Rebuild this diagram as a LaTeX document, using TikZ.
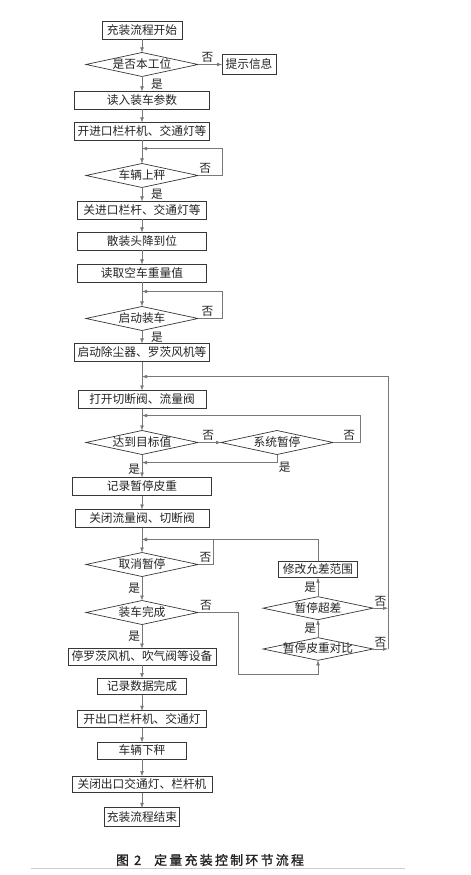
\documentclass[tikz,border=0pt]{standalone}
\usepackage{fontspec}
\setmainfont{Noto Sans CJK SC}
\newfontfamily\capfont[LetterSpace=18, FakeBold=1.5]{Noto Sans CJK SC}
\usepackage{tikz}
\usetikzlibrary{arrows.meta, positioning, calc, shapes.geometric}
\definecolor{boxEdge}{RGB}{55,55,55}
\definecolor{lineGray}{RGB}{120,120,120}
\definecolor{txtDark}{RGB}{35,35,35}
\definecolor{ruleGray}{RGB}{205,205,205}

\begin{document}
\begin{tikzpicture}[
    box/.style={rectangle, draw=boxEdge, semithick, minimum height=0.54cm, text height=0.29cm, text depth=0.06cm, inner sep=0pt, outer sep=0pt, align=center, text=txtDark},
    decision/.style={diamond, draw=boxEdge, semithick, aspect=4.6, minimum width=3.36cm, minimum height=0.72cm, text height=0.29cm, text depth=0.06cm, inner sep=0pt, outer sep=0pt, text=txtDark},
    arrow/.style={-{Latex[length=1.5mm, width=1.1mm]}, draw=lineGray, thin},
    lab/.style={inner sep=1.5pt, text=txtDark},
    every node/.style={font=\fontsize{10pt}{12pt}\selectfont}
]
\useasboundingbox (0,0) rectangle (14.1,-26.25);

% Main column
\node[box, minimum width=2.4cm] (start) at (4.26,-0.915) {充装流程开始};
\node[decision, below=0.39cm of start] (isStation) {\makebox[0pt]{是否本工位}};
\node[box, minimum width=1.62cm, minimum height=0.6cm, right=0.72cm of isStation] (hint) {提示信息};
\node[box, minimum width=4.05cm, below=0.45cm of isStation] (readPar) {读入装车参数};
\node[box, minimum width=4.05cm, below=0.39cm of readPar] (openIn) {开进口栏杆机、交通灯等};
\node[decision, below=0.69cm of openIn] (onScale) {\makebox[0pt]{车辆上秤}};
\node[box, minimum width=3.87cm, below=0.42cm of onScale] (closeIn) {关进口栏杆、交通灯等};
\node[box, minimum width=3.87cm, below=0.39cm of closeIn] (lowerHead) {散装头降到位};
\node[box, minimum width=3.87cm, below=0.42cm of lowerHead] (readTare) {读取空车重量值};
\node[decision, below=0.72cm of readTare] (startLoad) {\makebox[0pt]{启动装车}};
\node[box, minimum width=4.05cm, below=0.39cm of startLoad] (startFan) {启动除尘器、罗茨风机等};
\node[box, minimum width=3.84cm, below=0.87cm of startFan] (openValve) {打开切断阀、流量阀};
\node[decision, below=0.66cm of openValve] (reach) {\makebox[0pt]{达到目标值}};
\node[decision, right=0.69cm of reach] (sysPause) {\makebox[0pt]{系统暂停}};
\node[box, minimum width=4.17cm, below=0.69cm of reach] (recTare) {记录暂停皮重};
\node[box, minimum width=4.02cm, below=0.42cm of recTare] (closeValve) {关闭流量阀、切断阀};
\node[decision, below=0.75cm of closeValve] (cancel) {\makebox[0pt]{取消暂停}};
\node[decision, below=0.72cm of cancel] (loadDone) {\makebox[0pt]{装车完成}};
\node[box, minimum width=4.44cm, minimum height=0.5cm, below=0.72cm of loadDone] (stopFan) {停罗茨风机、吹气阀等设备};
\node[box, minimum width=2.67cm, minimum height=0.5cm, below=0.39cm of stopFan] (recData) {记录数据完成};
\node[box, minimum width=3.87cm, minimum height=0.5cm, below=0.48cm of recData] (openOut) {开出口栏杆机、交通灯};
\node[box, minimum width=2.67cm, minimum height=0.5cm, below=0.45cm of openOut] (leave) {车辆下秤};
\node[box, minimum width=4.2cm, minimum height=0.5cm, below=0.51cm of leave] (closeOut) {关闭出口交通灯、栏杆机};
\node[box, minimum width=2.25cm, minimum height=0.56cm, below=0.45cm of closeOut] (finish) {充装流程结束};

% Right branch: tare check
\node[decision, minimum width=3.3cm, minimum height=0.68cm] (cmpTare) at (9.54,-19.47) {\makebox[0pt]{暂停皮重对比}};
\node[decision, minimum width=3.3cm, minimum height=0.69cm, above=0.54cm of cmpTare] (overTol) {\makebox[0pt]{暂停超差}};
\node[box, minimum width=2.37cm, minimum height=0.5cm, above=0.57cm of overTol] (modify) {修改允差范围};

% Loop entry points on the main line
\coordinate (inScale) at ($(openIn.south)!0.35!(onScale.north)$);
\coordinate (inLoad) at ($(readTare.south)!0.375!(startLoad.north)$);
\coordinate (inValve) at ($(startFan.south)!0.52!(openValve.north)$);
\coordinate (inReach) at ($(openValve.south)!0.32!(reach.north)$);
\coordinate (inRec) at ($(reach.south)!0.35!(recTare.north)$);
\coordinate (inCancel) at ($(closeValve.south)!0.48!(cancel.north)$);
\coordinate (retR) at ($(cmpTare.east)+(0.45,0)$);

% Arrows
\draw[arrow] (start) -- (isStation);
\draw[arrow] (isStation) -- node[lab, pos=0.4, above] {否} (hint);
\draw[arrow] (isStation) -- node[lab, right=6pt] {是} (readPar);
\draw[arrow] (readPar) -- (openIn);
\draw[arrow] (openIn) -- (onScale);
\draw[arrow] (onScale.east) -- node[lab, pos=0.3, above] {否} ++(0.72,0) |- (inScale);
\draw[arrow] (onScale) -- node[lab, right=6pt] {是} (closeIn);
\draw[arrow] (closeIn) -- (lowerHead);
\draw[arrow] (lowerHead) -- (readTare);
\draw[arrow] (readTare) -- (startLoad);
\draw[arrow] (startLoad.east) -- node[lab, pos=0.4, above] {否} ++(0.72,0) |- (inLoad);
\draw[arrow] (startLoad) -- node[lab, right=6pt] {是} (startFan);
\draw[arrow] (startFan) -- (openValve);
\draw[arrow] (openValve) -- (reach);

% Target value / system pause
\draw[arrow] (reach) -- node[lab, pos=0.45, above] {否} (sysPause);
\draw[arrow] (sysPause.east) -- node[lab, pos=0.6, above] {否} ++(0.81,0) |- (inReach);
\draw[arrow] (sysPause.south) |- node[lab, pos=0.35, below right] {是} (inRec);
\draw[arrow] (reach) -- node[lab, pos=0.65, left] {是} (recTare);
\draw[arrow] (recTare) -- (closeValve);
\draw[arrow] (closeValve) -- (cancel);

% Cancel pause
\draw[arrow] (cancel.east) -- node[lab, pos=0.5, above] {否} ++(0.45,0) |- (inCancel);
\draw[arrow] (modify.north) |- (inCancel);
\draw[arrow] (cancel) -- node[lab, left] {是} (loadDone);
\draw[arrow] (loadDone.east) -- node[lab, pos=0.2, above] {否} ++(1.2,0) |- ($(cmpTare.south)+(0,-0.42)$) -- (cmpTare.south);
\draw[arrow] (loadDone) -- node[lab, left] {是} (stopFan);

% Tare comparison branch
\draw[arrow] (cmpTare) -- node[lab, left] {是} (overTol);
\draw[arrow] (overTol) -- node[lab, left] {是} (modify);
\draw[arrow] (overTol.east) -- node[lab, pos=0.5, above] {否} (overTol.east -| retR);
\draw[arrow] (cmpTare.east) -- node[lab, pos=0.5, above] {否} (retR);
\draw[arrow] (retR) |- (inValve);

% Exit sequence
\draw[arrow] (stopFan) -- (recData);
\draw[arrow] (recData) -- (openOut);
\draw[arrow] (openOut) -- (leave);
\draw[arrow] (leave) -- (closeOut);
\draw[arrow] (closeOut) -- (finish);

% Caption
\node[font=\capfont\fontsize{11pt}{13pt}\selectfont, text=txtDark] (caption) at (6.3,-25.8) {图\ 2\quad 定量充装控制环节流程};
\draw[ruleGray, line width=0.8pt] (0.93,-26.04) -- (12.15,-26.04);

\end{tikzpicture}
\end{document}
